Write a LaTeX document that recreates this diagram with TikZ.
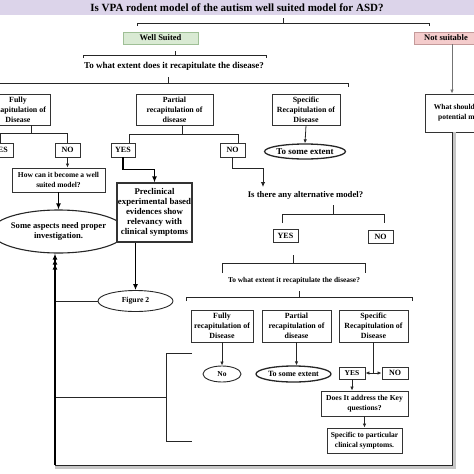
\documentclass[tikz,border=0pt]{standalone}
\usepackage{fontspec}
\setmainfont{Liberation Serif}
\usetikzlibrary{arrows.meta,shapes.geometric}
\definecolor{titlebg}{HTML}{DCD4EA}
\definecolor{wellbg}{HTML}{D9EAD3}
\definecolor{wellline}{HTML}{9FBF96}
\definecolor{notbg}{HTML}{F4CCCC}
\definecolor{notline}{HTML}{C49A9A}
\begin{document}
\begin{tikzpicture}[x=1pt,y=-1pt,
	box/.style={draw=black!80, line width=0.9pt, fill=white, align=center, inner sep=0pt},
	oval/.style={ellipse, draw=black!85, line width=0.9pt, fill=white, align=center, inner sep=0pt},
	sz/.style={font=\fontsize{#1}{10}\selectfont\bfseries},
	link/.style={line width=0.8pt, draw=black!85},
	thin arrow/.style={link, -{Latex[length=4pt,width=3.5pt]}},
	bold arrow/.style={line width=1.3pt, draw=black, -{Latex[length=6pt,width=5pt]}}]
		\useasboundingbox (0,0) rectangle (474,474);
		\clip (0,0) rectangle (474,474);
		
		% title band
		\fill [titlebg] (0,0) rectangle (474,15);
		\node [sz=11] (title) at (237,7.5) {Is VPA rodent model of the autism well suited model for ASD?};
		\draw [link] (283,18) -- (283,23);
		\draw [link] (137,26) -- (137,23) -- (429,23) -- (429,26);
		
		\node [box, fill=wellbg, draw=wellline, minimum width=75, minimum height=12, sz=8.5] (well) at (160.5,38) {Well Suited};
		\node [box, fill=notbg, draw=notline, minimum width=64, minimum height=12, sz=8.5] (notsuit) at (446,38) {Not suitable};
		\coordinate (rline) at (452,0);
		\coordinate (corner) at (452,465);
		\coordinate (lcorner) at (55,465);
		
		% well suited branch
		\draw [link] (175,51) -- (175,55);
		\draw [link] (83,58) -- (83,55) -- (266,55) -- (266,58);
		\node [sz=9] (q1) at (174,66) {To what extent does it recapitulate the disease?};
		\draw [link] (168,77) -- (168,83);
		\draw [link] (-5,83) -- (348,83) -- (348,87);
		
		\node [box, minimum width=64, minimum height=31, sz=7.9] (fully1) at (18,109.5) {Fully\\recapitulation of\\Disease};
		\node [box, minimum width=77, minimum height=31, sz=7.9] (partial1) at (174.5,109.5) {Partial\\recapitulation of\\disease};
		\node [box, minimum width=68, minimum height=31, sz=7.9] (specific1) at (306,109.5) {Specific\\Recapitulation of\\Disease};
		\node [oval, line width=1.3pt, minimum width=80, minimum height=15, sz=9] (some1) at (305,151.5) {To some extent};
		\draw [thin arrow] (specific1.south) -- (some1.north);
		
		\node [box, minimum width=26, minimum height=14, sz=8] (yes1) at (0,150) {YES};
		\node [box, minimum width=25, minimum height=14, sz=8] (no1) at (67.5,150) {NO};
		\node [box, minimum width=24, minimum height=14, sz=8] (yes2) at (123,150) {YES};
		\node [box, minimum width=25, minimum height=14, sz=8] (no2) at (232.5,150) {NO};
		\draw [link] (31,125) -- (31,134);
		\draw [link] (yes1.north) -- ++(0,-9) -| (no1.north);
		\draw [link] (182,125) -- (182,134);
		\draw [link] (129,143) -- (129,134) -- (238,134) -- (238,143);
		
		\node [box, minimum width=93, minimum height=24, sz=7.5] (how) at (58.5,180) {How can it become a well\\suited model?};
		\node [oval, line width=1.1pt, minimum width=107, minimum height=43, sz=8.6] (aspects) at (58.5,231.5) {Some aspects need proper\\investigation.};
		\node [box, line width=1.1pt, minimum width=75, minimum height=59, sz=8.8] (precl) at (154.5,212.5) {Preclinical\\experimental based\\evidences show\\relevancy with\\clinical symptoms};
		\node [oval, minimum width=75, minimum height=21, sz=7.7] (fig2) at (135.5,301) {Figure 2};
		\draw [thin arrow] (no1.south) -- (how.north -| no1.south);
		\draw [bold arrow] (how.south) -- (aspects.north);
		\draw [bold arrow] (yes2.south) -- ++(0,12) -| (precl.north);
		\draw [bold arrow] (precl.south -| fig2.north) -- (fig2.north);
		\draw [link] (aspects.west) -- ++(-12,0);
		
		% alternative model
		\coordinate (altin) at (263,187);
		\draw [link, -{Latex[length=5pt,width=4.5pt]}] (no2.south) -- ++(0,11) -| (altin);
		\node [sz=8.7] (alt) at (305.5,195) {Is there any alternative model?};
		\draw [link] (333,205) -- (333,214);
		\draw [link] (282,223) -- (282,214) -- (384,214) -- (384,223);
		\node [box, minimum width=25, minimum height=13, sz=8] (yes3) at (285.5,235.5) {YES};
		\node [box, minimum width=25, minimum height=13, sz=8] (no3) at (380.5,236.5) {NO};
		\draw [link] (293,255) -- (293,263);
		\draw [link] (222,273) -- (222,263) -- (365,263) -- (365,273);
		\node [sz=7.4] (q2) at (294,281) {To what extent it recapitulate the disease?};
		\draw [link] (299,291) -- (299,297);
		\draw [link] (186,301) -- (186,297) -- (412,297) -- (412,301);
		
		\node [box, minimum width=62, minimum height=32, sz=7.9] (fully2) at (222,326) {Fully\\recapitulation of\\Disease};
		\node [box, minimum width=69, minimum height=32, sz=7.9] (partial2) at (296.5,326) {Partial\\recapitulation of\\disease};
		\node [box, minimum width=69, minimum height=32, sz=7.9] (specific2) at (373.5,326) {Specific\\Recapitulation of\\Disease};
		\node [oval, minimum width=38, minimum height=16, sz=7.5] (no4) at (222,374) {No};
		\node [oval, line width=1.3pt, minimum width=75, minimum height=16, sz=8] (some2) at (293.5,374) {To some extent};
		\node [box, minimum width=26, minimum height=12, sz=7.5] (yes4) at (352,373) {YES};
		\node [box, minimum width=26, minimum height=12, sz=8] (no5) at (395,373) {NO};
		\node [box, minimum width=87, minimum height=25, sz=7.6] (key) at (364.5,403.5) {Does It address the Key\\questions?};
		\node [box, minimum width=75, minimum height=25, sz=7.5] (spec) at (364.5,440.5) {Specific to particular\\clinical symptoms.};
		\draw [thin arrow] (fully2.south) -- (no4.north);
		\draw [thin arrow] (partial2.south) -- (some2.north -| partial2.south);
		\draw [link] (specific2.south) -- (specific2.south |- yes4.east);
		\draw [link, {Latex[length=4pt,width=3.5pt]}-{Latex[length=4pt,width=3.5pt]}] (yes4.east) -- (no5.west);
		\draw [thin arrow] (yes4.south) -- (key.north -| yes4.south);
		\draw [thin arrow] (key.south) -- (spec.north);
		
		% not suitable branch
		\node [box, minimum width=80, minimum height=38, sz=7.5] (what) at (465,113) {What should be the\\potential model?};
		\draw [thin arrow, draw=black!55] (notsuit.south -| rline) -- (what.north -| rline);
		\draw [gray!45, line width=2.5pt] ([xshift=2.5pt]what.south -| rline) -- ([xshift=2.5pt,yshift=-2.5pt]corner) -- ([yshift=-2.5pt]lcorner);
		\draw [link, line width=1pt] (what.south -| rline) -- (corner) -- (lcorner);
		
		% back to the aspects ellipse
		\draw [link, line width=1pt] (55,397) -- (166,397);
		\draw [link, line width=1pt] (192,353) -- (166,353) -- (166,441) -- (192,441);
		\draw [link, line width=1pt] (fig2.west) -- (fig2.west -| lcorner);
		\draw [bold arrow] (lcorner) -- (aspects.south -| lcorner);
		\draw [bold arrow] (55,397) -- ([yshift=-5pt]aspects.south -| lcorner);
		\draw [bold arrow] (fig2.west -| lcorner) -- ([yshift=-10pt]aspects.south -| lcorner);
		
		\end{tikzpicture}
\end{document}
